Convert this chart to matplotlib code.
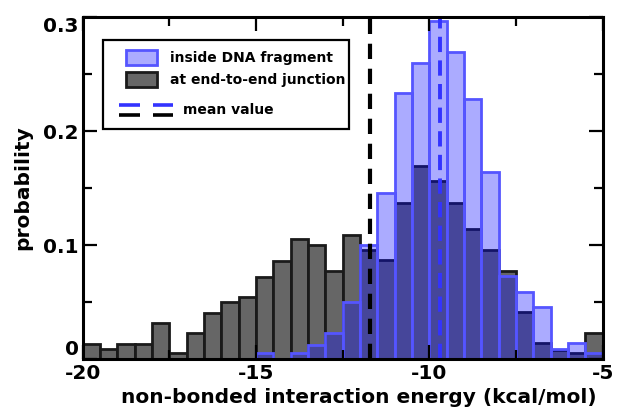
import numpy as np
import matplotlib
matplotlib.use("Agg")
import matplotlib.pyplot as plt
from matplotlib.patches import Rectangle
from matplotlib.lines import Line2D

plt.rcParams['font.family'] = ['DejaVu Sans']
plt.rcParams['font.weight'] = 'bold'
plt.rcParams['axes.unicode_minus'] = False
plt.rcParams['lines.scale_dashes'] = False

# histogram bins (kcal/mol), width 0.5
bin_edges = np.arange(-20, -4.99, 0.5)

# probability per bin
junction_prob = [0.013, 0.009, 0.013, 0.013, 0.032, 0.005, 0.023, 0.040, 0.050, 0.054,
                 0.072, 0.086, 0.105, 0.100, 0.077, 0.109, 0.096, 0.087, 0.137, 0.169,
                 0.156, 0.137, 0.114, 0.096, 0.077, 0.041, 0.014, 0.008, 0.005, 0.023]
inside_prob = [0, 0, 0, 0, 0, 0, 0, 0, 0, 0,
               0.005, 0, 0.005, 0.0125, 0.023, 0.050, 0.100, 0.146, 0.233, 0.260,
               0.297, 0.269, 0.228, 0.164, 0.073, 0.059, 0.046, 0.009, 0.014, 0.005]

mean_junction = -11.72
mean_inside = -9.70

x_ticks = [-20, -15, -10, -5]
x_ticklabels = ['-20', '-15', '-10', '-5']
y_ticks = [0, 0.1, 0.2, 0.3]
y_ticklabels = ['0', '0.1', '0.2', '0.3']

grey_face = '#666666'
grey_edge = '#1a1a1a'
blue_face = (0.04, 0.04, 1.0, 0.34)
blue_edge = '#5555ff'
blue_line = '#3333ff'

fig = plt.figure(figsize=(6.17, 4.08), dpi=100)
ax = fig.add_axes([0.134, 0.12, 0.843, 0.838])

lefts = bin_edges[:-1]
ax.bar(lefts, junction_prob, width=0.5, align='edge', color=grey_face,
       edgecolor=grey_edge, linewidth=2.0, zorder=1)
ax.bar(lefts, inside_prob, width=0.5, align='edge', color=blue_face,
       edgecolor=blue_edge, linewidth=2.0, zorder=1.2)

ax.axvline(mean_junction, color='black', lw=3, dashes=(11, 7), zorder=3)
ax.axvline(mean_inside, color=blue_line, lw=2.8, dashes=(11, 6), zorder=3)

ax.set_xlim(-20, -5)
ax.set_ylim(0, 0.3)
ax.set_xticks(x_ticks)
ax.set_xticklabels(x_ticklabels)
ax.set_yticks(y_ticks)
ax.set_yticklabels(y_ticklabels)
ax.set_xticks(np.arange(-17.5, -5, 5), minor=True)
ax.set_yticks([0.05, 0.15, 0.25], minor=True)
ax.tick_params(which='both', direction='in', top=True, right=True, width=1.6,
               labelsize=14.5)
ax.tick_params(axis='x', which='major', pad=3.5)
ax.tick_params(axis='y', which='major', pad=3)
ax.tick_params(which='major', length=10)
ax.tick_params(which='minor', length=6.5)
for s in ax.spines.values():
    s.set_linewidth(2.2)
    s.set_zorder(4)

# end labels on the y axis are pulled inside the axis range
ylabs = ax.get_yticklabels()
ylabs[0].set_verticalalignment('bottom')
ylabs[-1].set_verticalalignment('top')

ax.set_xlabel('non-bonded interaction energy (kcal/mol)', fontsize=14.5,
              fontweight='bold')
ax.set_ylabel('probability', fontsize=14.5, fontweight='bold')
ax.xaxis.set_label_coords(0.531, -0.086)
ax.yaxis.set_label_coords(-0.096, 0.5)

# legend, drawn by hand so the mean-value row can sit a bit lower
def fx(px):
    return (px - 82.7) / (603.0 - 82.7)

def fy(py):
    return (359.3 - py) / (359.3 - 17.0)

tr = ax.transAxes
ax.add_patch(Rectangle((fx(102.7), fy(129)), fx(349) - fx(102.7), fy(40) - fy(129),
                       transform=tr, facecolor='white', edgecolor='black', lw=1.6, zorder=5))
ax.add_patch(Rectangle((fx(126), fy(65)), fx(157) - fx(126), fy(49.5) - fy(65),
                       transform=tr, facecolor=blue_face, edgecolor=blue_edge, lw=2, zorder=6))
ax.add_patch(Rectangle((fx(126), fy(87.3)), fx(157) - fx(126), fy(71.7) - fy(87.3),
                       transform=tr, facecolor=grey_face, edgecolor=grey_edge, lw=2, zorder=6))
ax.text(fx(170), fy(57.5), 'inside DNA fragment', transform=tr, fontsize=10,
        fontweight='bold', va='center', ha='left', zorder=6)
ax.text(fx(170), fy(79.5), 'at end-to-end junction', transform=tr, fontsize=10,
        fontweight='bold', va='center', ha='left', zorder=6)
for yy, c in [(105, blue_line), (115, 'black')]:
    for x0, x1 in [(119.3, 140), (152.7, 173.3)]:
        ax.add_line(Line2D([fx(x0), fx(x1)], [fy(yy), fy(yy)], transform=tr,
                           color=c, lw=2.6, solid_capstyle='butt', zorder=6))
ax.text(fx(183.3), fy(109.5), 'mean value', transform=tr, fontsize=10,
        fontweight='bold', va='center', ha='left', zorder=6)

fig.savefig('out.png', dpi=100)
